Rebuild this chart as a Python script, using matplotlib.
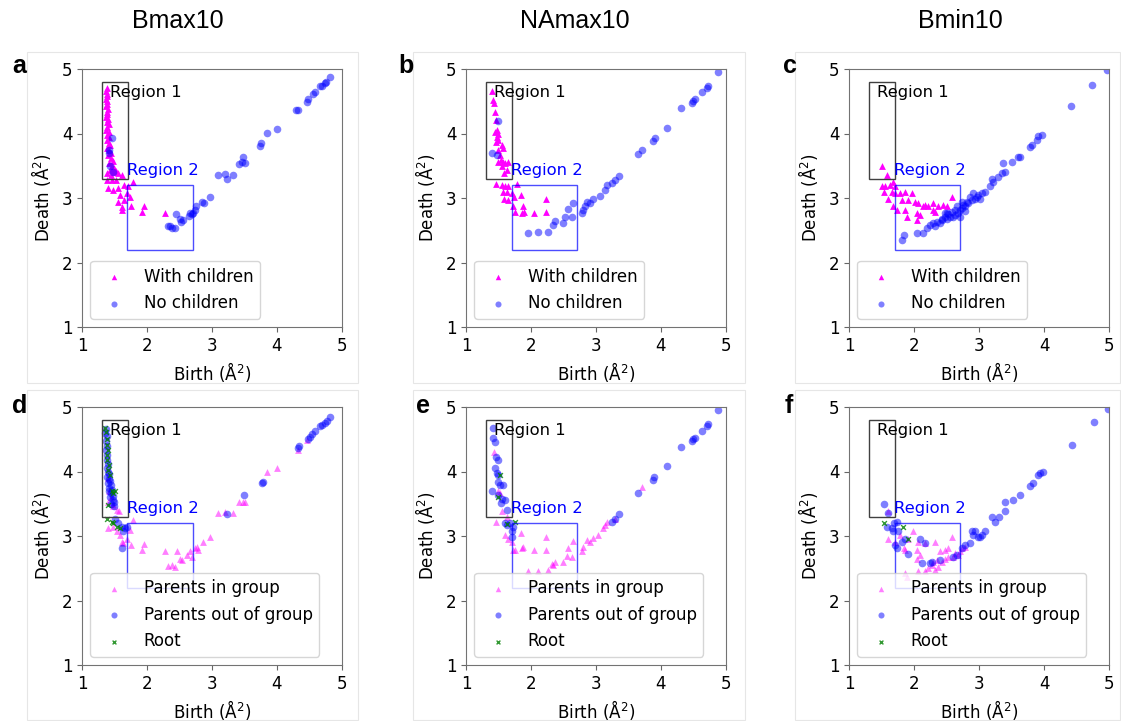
import numpy as np
import matplotlib
matplotlib.use('Agg')
import matplotlib.pyplot as plt
from matplotlib.patches import Rectangle

# ---- data (birth, death) ----
titles = ['Bmax10', 'NAmax10', 'Bmin10']
letters_top = ['a', 'b', 'c']
letters_bot = ['d', 'e', 'f']

a_with = [(1.38,4.70),(1.37,4.66),(1.39,4.62),(1.38,4.58),(1.37,4.54),(1.39,4.50),(1.38,4.46),(1.37,4.42),
          (1.40,4.38),(1.38,4.34),(1.39,4.30),(1.37,4.26),(1.40,4.22),(1.38,4.18),(1.41,4.14),(1.39,4.10),
          (1.37,4.06),(1.41,4.02),(1.39,3.98),(1.42,3.94),(1.38,3.90),(1.41,3.86),(1.43,3.82),(1.39,3.78),
          (1.42,3.74),(1.45,3.70),(1.40,3.66),(1.44,3.62),(1.47,3.58),(1.41,3.54),(1.46,3.50),(1.50,3.46),
          (1.43,3.44),(1.53,3.42),(1.48,3.40),(1.38,3.38),(1.56,3.38),(1.45,3.35),(1.61,3.36),
          (1.38,3.28),(1.46,3.28),(1.53,3.28),(1.64,3.20),(1.40,3.15),(1.48,3.12),(1.56,3.15),(1.71,3.18),
          (1.78,3.25),(1.59,3.05),(1.69,3.07),(1.74,3.02),(1.56,2.94),(1.64,2.97),(1.61,2.86),(1.76,2.87),
          (1.95,2.88),(1.92,2.79),(2.28,2.76),(1.61,2.81)]
a_none = [(1.46,3.93),(1.42,3.74),(1.41,3.69),(1.43,3.49),(1.48,3.41),
          (3.09,3.35),(3.20,3.37),(3.23,3.30),(3.33,3.35),(3.41,3.53),(3.48,3.64),(3.51,3.55),(3.46,3.56),
          (3.74,3.80),(3.76,3.85),(3.84,4.01),(4.00,4.07),(4.30,4.37),(4.33,4.36),(4.46,4.49),(4.48,4.53),
          (4.56,4.62),(4.59,4.65),(4.66,4.73),(4.69,4.74),(4.74,4.78),(4.76,4.80),(4.82,4.87),
          (2.97,3.01),(2.87,2.92),(2.84,2.94),(2.76,2.87),(2.74,2.81),(2.71,2.77),(2.69,2.75),(2.66,2.76),
          (2.64,2.72),(2.56,2.66),(2.53,2.63),(2.51,2.68),(2.45,2.75),(2.33,2.56),(2.35,2.57),(2.38,2.54),
          (2.43,2.53)]

b_with = [(1.405,4.66),(1.42,4.52),(1.436,4.47),(1.446,4.34),(1.456,4.21),(1.472,4.05),(1.446,4.03),
          (1.497,4.00),(1.472,3.95),(1.456,3.87),(1.497,3.90),(1.549,3.82),(1.574,3.77),(1.497,3.74),
          (1.523,3.67),(1.538,3.59),(1.574,3.56),(1.497,3.56),(1.60,3.54),(1.549,3.49),(1.626,3.43),
          (1.59,3.38),(1.651,3.56),(1.456,3.22),(1.549,3.20),(1.60,3.18),(1.651,3.18),(1.779,3.22),
          (1.574,3.10),(1.626,3.10),(1.703,3.07),(1.59,2.99),(1.651,2.97),(1.744,3.02),(1.846,3.05),
          (1.728,2.87),(1.754,2.79),(1.882,2.87),(1.897,2.79),(1.856,2.77),(2.051,2.77),(2.226,2.99),
          (2.231,2.78)]
b_none = [(1.497,4.19),(1.395,3.70),(1.472,3.67),(1.959,2.46),(2.113,2.47),(2.267,2.48),(2.344,2.58),
          (2.369,2.65),(2.497,2.61),(2.523,2.71),(2.574,2.83),(2.626,2.70),(2.651,2.93),(2.779,2.76),
          (2.805,2.81),(2.831,2.87),(2.856,2.94),(2.908,2.92),(2.959,2.99),(3.062,3.03),(3.138,3.12),
          (3.164,3.20),(3.241,3.23),(3.292,3.28),(3.354,3.34),(3.651,3.68),(3.703,3.75),(3.882,3.88),
          (3.908,3.93),(4.097,4.09),(4.308,4.39),(4.472,4.48),(4.497,4.50),(4.523,4.53),(4.626,4.64),
          (4.703,4.71),(4.728,4.74),(4.882,4.96)]

c_with = [(1.513,3.49),(1.579,3.36),(1.503,3.18),(1.554,3.18),(1.631,3.20),(1.682,3.25),(1.708,3.18),
          (1.544,3.10),(1.656,3.10),(1.605,2.99),(1.708,3.07),(1.785,3.07),(1.862,3.10),(1.964,3.07),
          (1.81,2.97),(1.913,2.97),(2.015,2.94),(2.067,2.92),(2.169,2.89),(2.144,2.87),(2.297,2.93),
          (2.297,2.81),(2.374,2.87),(2.451,2.89),(2.579,3.01),(1.682,2.87),(1.733,2.81),(1.862,2.81),
          (2.041,2.76),(2.092,2.74),(1.887,2.71),(2.041,2.66),(2.323,2.79),(2.221,2.87),(2.503,2.87)]
c_none = [(1.81,2.35),(1.851,2.43),(2.041,2.46),(2.144,2.45),(2.195,2.53),(2.246,2.58),(2.297,2.61),
          (2.323,2.57),(2.349,2.63),(2.40,2.62),(2.426,2.67),(2.477,2.71),(2.503,2.77),(2.528,2.75),
          (2.554,2.71),(2.579,2.79),(2.605,2.71),(2.631,2.74),(2.656,2.87),(2.682,2.76),(2.708,2.81),
          (2.733,2.84),(2.759,2.89),(2.785,2.87),(2.81,2.94),(2.836,2.92),(2.862,3.02),(2.887,2.97),
          (2.913,3.08),(2.938,2.99),(2.964,3.02),(2.99,3.05),(3.015,2.99),(3.041,3.07),(3.092,3.10),
          (3.169,3.18),(3.195,3.30),(3.221,3.25),(3.297,3.32),(3.349,3.38),(3.374,3.54),(3.40,3.41),
          (3.503,3.56),(3.605,3.63),(3.631,3.64),(3.785,3.79),(3.81,3.82),(3.887,3.90),(3.913,3.96),
          (3.964,3.98),(4.41,4.42),(4.744,4.75),(4.964,4.98),(2.426,2.66),(2.503,2.67),(2.708,2.71),
          (2.785,2.80),(2.631,2.81),(2.733,2.94),(2.477,2.76)]

d_in = [(1.40,3.90),(1.42,3.70),(1.45,3.60),(1.47,3.50),
        (1.405,3.53),(1.482,3.46),(1.533,3.41),(1.574,3.38),(1.405,3.12),(1.482,3.14),(1.533,3.07),
        (1.585,3.02),(1.61,2.91),(1.636,2.89),(1.687,2.96),(1.738,3.09),(1.78,3.25),(1.754,2.86),
        (1.954,2.88),(1.918,2.78),(2.277,2.77),(2.456,2.76),(2.508,2.65),(2.533,2.63),(2.328,2.54),
        (2.379,2.55),(2.431,2.52),(2.61,2.71),(2.662,2.76),(2.687,2.68),(2.738,2.81),(2.764,2.83),
        (2.79,2.78),(2.867,2.91),(2.969,2.99),(3.097,3.35),(3.20,3.37),(3.328,3.35),(3.421,3.53),
        (3.472,3.52),(3.508,3.52),(3.851,4.00),(3.995,4.06),(4.328,4.34),(4.456,4.49)]
d_out = [(1.37,4.66),(1.36,4.60),(1.38,4.55),(1.37,4.48),(1.38,4.40),(1.37,4.33),(1.39,4.25),(1.38,4.18),
         (1.40,4.12),(1.38,4.05),(1.40,4.00),(1.42,3.96),(1.39,3.92),(1.41,3.88),(1.43,3.85),(1.40,3.82),
         (1.44,3.79),(1.42,3.75),(1.46,3.72),(1.41,3.70),(1.45,3.66),(1.48,3.62),(1.43,3.60),(1.47,3.56),
         (1.50,3.52),(1.45,3.50),(1.49,3.46),
         (1.508,3.27),(1.559,3.20),(1.61,3.14),(1.662,3.12),(1.687,3.14),(1.636,3.07),(1.61,2.82),
         (3.226,3.34),(3.492,3.64),(3.764,3.82),(3.79,3.84),(4.328,4.36),(4.344,4.39),(4.482,4.51),
         (4.508,4.54),(4.533,4.58),(4.585,4.63),(4.662,4.70),(4.687,4.72),(4.738,4.75),(4.764,4.78),
         (4.815,4.85)]
d_root = [(1.354,4.67),(1.369,4.62),(1.379,4.51),(1.39,4.41),(1.405,4.33),(1.379,4.26),(1.39,4.18),
          (1.42,4.10),(1.405,4.02),(1.431,3.95),(1.456,3.69),(1.482,3.66),(1.508,3.69),(1.405,3.48),
          (1.379,3.26),(1.456,3.22),(1.482,3.20),(1.533,3.14),(1.585,3.13)]

e_in = [(1.436,4.31),(1.497,3.69),(1.523,3.66),(1.456,3.22),(1.549,3.38),(1.626,3.30),(1.60,3.02),
        (1.651,2.96),(1.703,2.91),(1.728,2.78),(1.754,2.78),(1.856,2.81),(1.882,2.83),(1.846,3.04),
        (2.051,2.78),(2.226,2.99),(2.231,2.78),(1.959,2.45),(2.113,2.46),(2.267,2.47),(2.344,2.55),
        (2.369,2.60),(2.328,2.56),(2.497,2.60),(2.549,2.69),(2.574,2.82),(2.636,2.68),(2.651,2.92),
        (2.779,2.76),(2.805,2.83),(2.856,2.94),(2.908,2.91),(2.959,2.97),(3.036,3.02),(3.113,3.12),
        (3.138,3.17),(3.164,3.21),(3.292,3.27),(3.703,3.76)]
e_out = [(1.421,4.67),(1.421,4.52),(1.446,4.46),(1.456,4.23),(1.497,4.18),(1.446,4.05),(1.472,3.97),
         (1.497,3.95),(1.497,3.84),(1.523,3.79),(1.574,3.79),(1.395,3.69),(1.497,3.64),(1.549,3.58),
         (1.538,3.51),(1.60,3.56),(1.626,3.40),(1.60,3.20),(1.626,3.17),(1.677,3.20),(1.703,3.07),
         (1.703,2.99),(1.728,3.14),(3.241,3.22),(3.292,3.26),(3.354,3.34),(3.651,3.67),(3.882,3.87),
         (3.897,3.92),(4.097,4.09),(4.308,4.38),(4.472,4.47),(4.497,4.50),(4.523,4.52),(4.626,4.63),
         (4.703,4.71),(4.728,4.73),(4.882,4.96)]
e_root = [(1.523,3.94),(1.497,3.61),(1.626,3.18),(1.754,3.22)]

f_in = [(1.595,3.38),(1.605,2.96),(1.708,2.91),(1.785,3.02),(1.851,2.81),(1.99,3.07),(1.913,2.96),
        (2.067,2.91),(2.169,2.89),(2.323,2.91),(1.862,2.78),(2.041,2.78),(2.092,2.71),(2.041,2.65),
        (1.862,2.42),(1.887,2.37),(2.067,2.45),(2.169,2.45),(2.221,2.50),(2.272,2.55),(2.297,2.60),
        (2.349,2.63),(2.374,2.52),(2.426,2.60),(2.40,2.76),(2.477,2.78),(2.528,2.81),(2.579,2.99),
        (2.605,2.68),(2.631,2.73),(2.682,2.71),(2.708,2.76),(2.733,2.81),(2.785,2.83),(2.477,2.65),
        (2.528,2.68),(2.323,2.47)]
f_out = [(1.544,3.50),(1.605,3.35),(1.697,3.20),(1.733,3.22),(1.579,3.14),(1.656,3.12),(1.682,3.07),
         (1.759,3.07),(1.708,2.86),(1.733,2.81),(1.81,2.91),(1.862,2.95),(1.913,2.72),(2.092,2.96),
         (2.169,2.89),(2.118,2.58),(2.246,2.58),(2.272,2.60),(2.40,2.63),(2.605,2.68),(2.656,2.71),
         (2.733,2.81),(2.785,2.86),(2.862,2.89),(2.887,3.07),(2.913,3.02),(2.938,3.07),(2.99,2.99),
         (3.015,2.99),(3.041,3.02),(3.092,3.07),(3.195,3.30),(3.246,3.22),(3.308,3.30),(3.40,3.39),
         (3.40,3.53),(3.528,3.56),(3.631,3.63),(3.785,3.78),(3.836,3.82),(3.913,3.95),(3.938,3.97),
         (3.99,3.99),(4.436,4.41),(4.774,4.76),(4.99,4.97)]
f_root = [(1.544,3.20),(1.836,3.14),(1.913,2.96)]

region1 = (1.3, 3.3, 0.4, 1.5)   # x0, y0, w, h
region2 = (1.7, 2.2, 1.0, 1.0)

W, H = 1121, 721
fig = plt.figure(figsize=(W / 100, H / 100), dpi=100)

col_left = [82, 466, 849]
row_top = [69, 407]
ax_w, ax_h = 260, 258


def make_ax(col, row):
    l, t = col_left[col], row_top[row]
    return fig.add_axes([l / W, 1 - (t + ax_h) / H, ax_w / W, ax_h / H])


def style_ax(ax):
    ax.set_xlim(1, 5)
    ax.set_ylim(1, 5)
    ax.set_xticks([1, 2, 3, 4, 5])
    ax.set_yticks([1, 2, 3, 4, 5])
    ax.tick_params(labelsize=12, color='0.4')
    for s in ax.spines.values():
        s.set_color('0.45')
    ax.set_xlabel('Birth (Å$^2$)', fontsize=12)
    ax.set_ylabel('Death (Å$^2$)', fontsize=12, labelpad=6)
    ax.add_patch(Rectangle(region1[:2], region1[2], region1[3], fill=False,
                           edgecolor='0.25', lw=1.0))
    ax.add_patch(Rectangle(region2[:2], region2[2], region2[3], fill=False,
                           edgecolor='blue', lw=1.0, alpha=0.7))
    ax.text(1.43, 4.64, 'Region 1', fontsize=11.8, va='center', color='black')
    ax.text(1.69, 3.43, 'Region 2', fontsize=11.8, va='center', color='blue')


def xy(pts):
    arr = np.array(pts)
    return arr[:, 0], arr[:, 1]


top_sets = [(a_with, a_none), (b_with, b_none), (c_with, c_none)]
bot_sets = [(d_in, d_out, d_root), (e_in, e_out, e_root), (f_in, f_out, f_root)]

for i in range(3):
    ax = make_ax(i, 0)
    w, n = top_sets[i]
    ax.scatter(*xy(w), marker='^', s=24, color='magenta', lw=0, label='With children')
    ax.scatter(*xy(n), marker='o', s=30, color='blue', alpha=0.5, lw=0, label='No children')
    style_ax(ax)
    ax.legend(loc='lower left', fontsize=12, markerscale=0.8)

    ax = make_ax(i, 1)
    p_in, p_out, root = bot_sets[i]
    ax.scatter(*xy(p_in), marker='^', s=24, color='magenta', alpha=0.5, lw=0, label='Parents in group')
    ax.scatter(*xy(p_out), marker='o', s=30, color='blue', alpha=0.5, lw=0, label='Parents out of group')
    ax.scatter(*xy(root), marker='x', s=12, color='green', lw=1, alpha=0.8, label='Root')
    style_ax(ax)
    ax.legend(loc='lower left', fontsize=12, markerscale=0.8)

# light panel frames
frames_x = [(27, 358), (413, 745), (795, 1120)]
frames_y = [(52, 383), (390, 720)]
for (x0, x1) in frames_x:
    for (y0, y1) in frames_y:
        fig.add_artist(Rectangle((x0 / W, 1 - y1 / H), (x1 - x0) / W, (y1 - y0) / H,
                                 transform=fig.transFigure, fill=False,
                                 edgecolor='#e6e6e6', lw=0.8))

# column titles and panel letters
title_x = [178, 575, 960]
for t, x in zip(titles, title_x):
    fig.text(x / W, 1 - 21 / H, t, fontsize=18, family='Liberation Sans',
             ha='center', va='center')

letter_x_top = [12, 398, 783]
letter_x_bot = [12, 416, 785]
for l, x in zip(letters_top, letter_x_top):
    fig.text(x / W, 1 - 73 / H, l, fontsize=18, family='Liberation Sans',
             weight='bold', ha='left', va='baseline')
for l, x in zip(letters_bot, letter_x_bot):
    fig.text(x / W, 1 - 413 / H, l, fontsize=18, family='Liberation Sans',
             weight='bold', ha='left', va='baseline')

fig.savefig('out.png', dpi=100, facecolor='white')
